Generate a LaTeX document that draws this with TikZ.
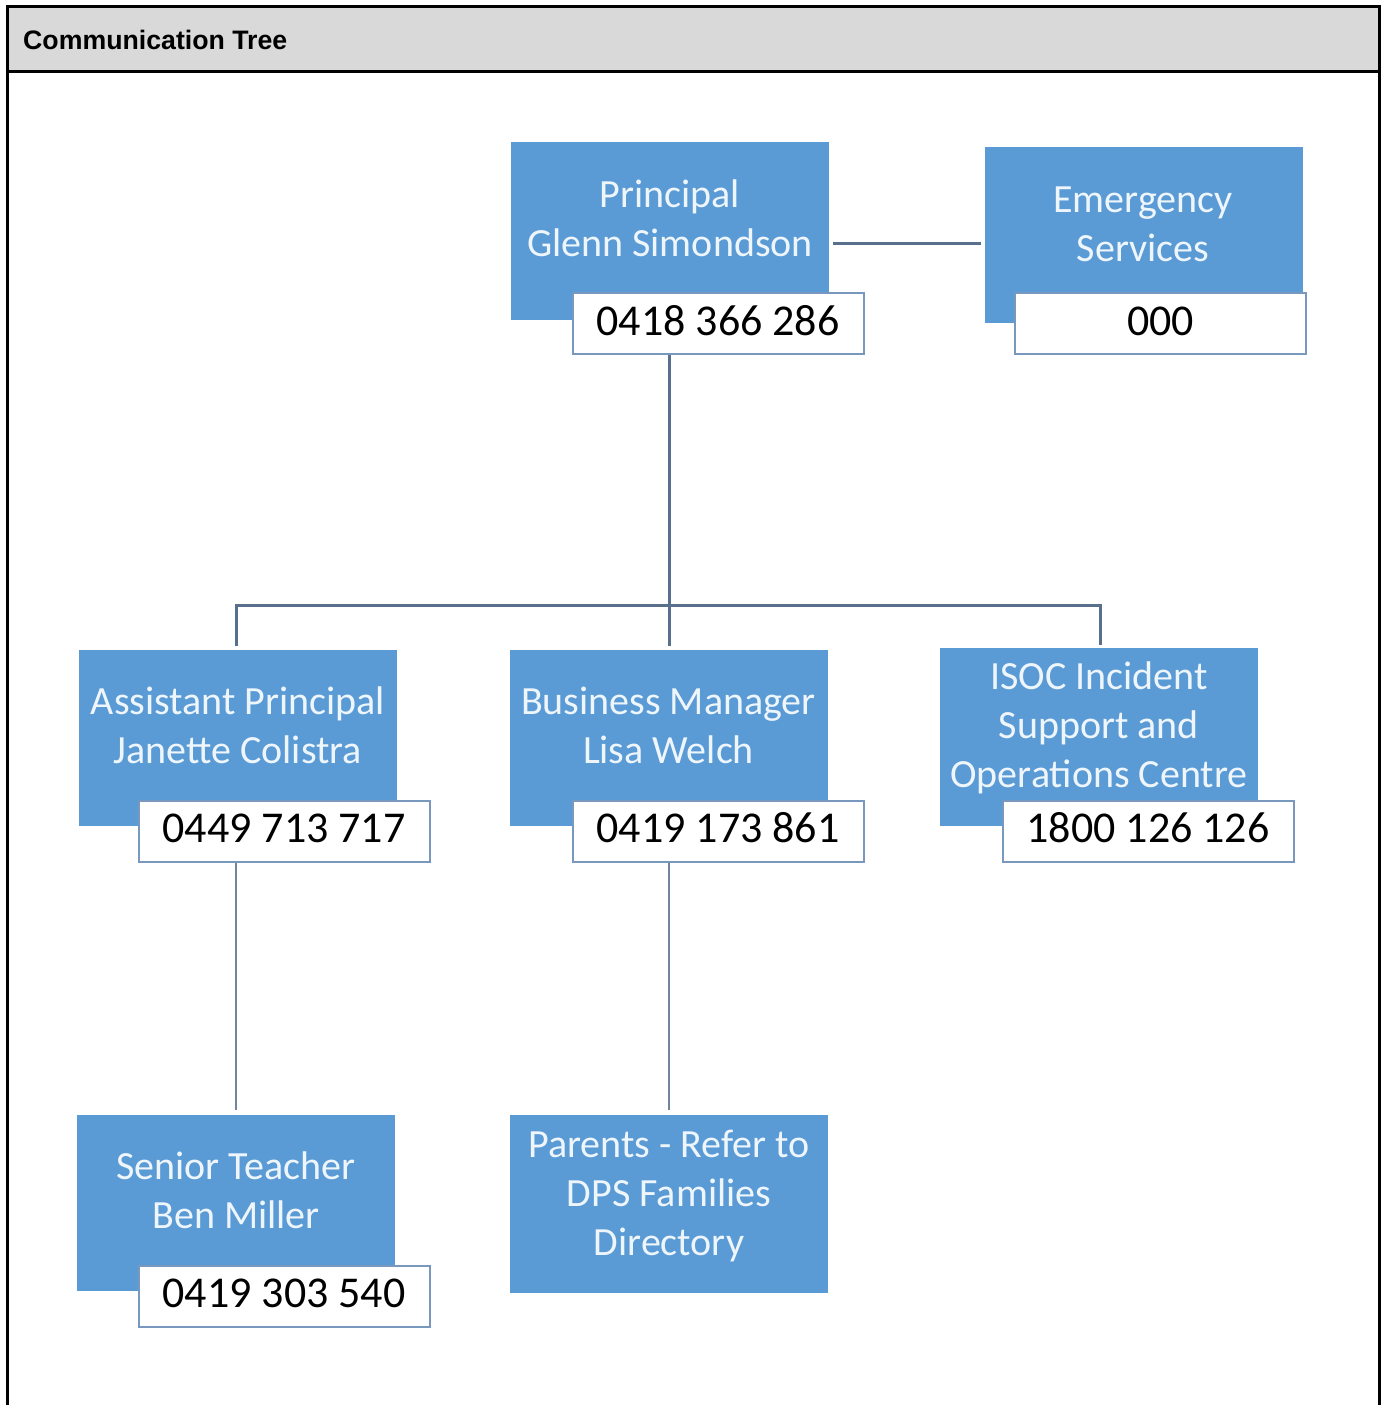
\documentclass[tikz,border=0pt]{standalone}
\usepackage{fontspec}
\setmainfont{Carlito}
\newfontfamily\hdrfont{Liberation Sans}
\definecolor{boxblue}{RGB}{91,155,213}
\definecolor{boxtext}{RGB}{238,246,252}
\definecolor{phoneedge}{RGB}{120,152,190}
\definecolor{connc}{RGB}{88,112,140}
\definecolor{hdrgray}{RGB}{217,217,217}
\begin{document}
\begin{tikzpicture}[x=1pt,y=-1pt,
  bluebox/.style={rectangle, fill=boxblue, draw=none, minimum width=318pt, minimum height=176pt, inner sep=0pt},
  bluetext/.style={text=boxtext, font=\fontsize{40}{49}\selectfont, align=center, anchor=base, inner sep=0pt},
  phonebox/.style={rectangle, fill=white, draw=phoneedge, line width=2pt, minimum width=291pt, minimum height=61pt, inner sep=0pt, text height=28pt, text depth=5pt, font=\fontsize{44}{50}\selectfont, text=black},
  conn/.style={draw=connc, line width=3pt},
  connthin/.style={draw=connc!85, line width=2pt}]
\useasboundingbox (0,0) rectangle (1384,1405);
\fill[white] (0,0) rectangle (1384,1405);
% header and frame
\fill[hdrgray] (7,7) rectangle (1379,72);
\draw[line width=3pt] (7,1405) -- (7,7) -- (1379,7) -- (1379,1405);
\draw[line width=3pt] (7,72) -- (1379,72);
\node[anchor=base west, inner sep=0pt, font=\hdrfont\bfseries\fontsize{26.7}{30}\selectfont] (hdr) at (23,50) {Communication Tree};

% Principal
\node[bluebox, minimum height=178pt] (p) at (670,231) {};
\node[bluetext] (pt) at (670,256) {Principal\\Glenn Simondson};
\node[phonebox] (pph) at (718,323.5) {0418 366 286};

% Emergency
\node[bluebox] (es) at (1143.5,235) {};
\node[bluetext] (est) at (1143,261) {Emergency\\Services};
\node[phonebox] (esp) at (1160.5,323.5) {000};

% Assistant Principal
\node[bluebox] (ap) at (238,738) {};
\node[bluetext] (apt) at (238,763) {Assistant Principal\\Janette Colistra};
\node[phonebox] (app) at (284,831) {0449 713 717};

% Business Manager
\node[bluebox] (bm) at (668.5,738) {};
\node[bluetext] (bmt) at (668.5,763) {Business Manager\\Lisa Welch};
\node[phonebox] (bmp) at (718,831) {0419 173 861};

% ISOC
\node[bluebox, minimum height=178pt] (is) at (1099,737) {};
\node[bluetext] (ist) at (1099,787) {ISOC Incident\\Support and\\Operations Centre};
\node[phonebox] (isp) at (1148,831) {1800 126 126};

% Senior Teacher
\node[bluebox] (st) at (236,1203) {};
\node[bluetext] (stt) at (236,1228) {Senior Teacher\\Ben Miller};
\node[phonebox] (stp) at (284,1296) {0419 303 540};

% Parents
\node[bluebox, minimum height=178pt] (pa) at (669,1204) {};
\node[bluetext] (pat) at (669,1255) {Parents - Refer to\\DPS Families\\Directory};

% connectors
\coordinate (busL) at (236,605);
\coordinate (busM) at (669,605);
\coordinate (busR) at (1100,605);
\draw[conn] ([xshift=4pt,yshift=-12pt]p.east) -- ([xshift=-3pt,yshift=-8pt]es.west);
\draw[conn] (busM |- pph.south) -- (busM);
\draw[conn, line join=miter, shorten <=4pt, shorten >=3pt] (busL |- ap.north) -- (busL) -- (busR) -- (busR |- is.north);
\draw[conn, shorten >=4pt] (busM) -- (busM |- bm.north);
\draw[connthin, shorten >=5pt] (app.south -| st.north) -- (st.north);
\draw[connthin, shorten >=5pt] (bmp.south -| pa.north) -- (pa.north);
\end{tikzpicture}
\end{document}
